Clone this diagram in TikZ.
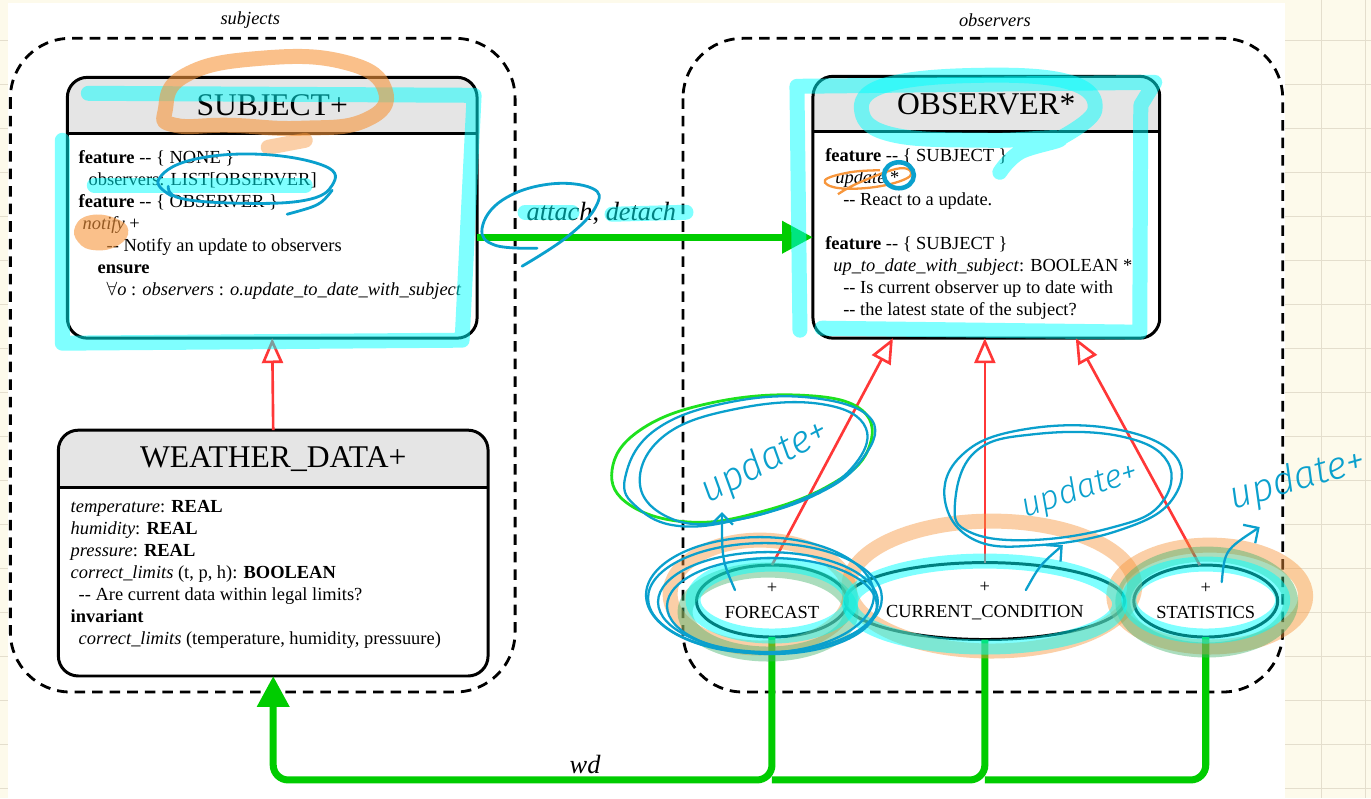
\documentclass[tikz,border=0pt]{standalone}
\usepackage{fontspec}
\setmainfont{Liberation Serif}
\newfontfamily\handfont{Fira Sans Light}
\usetikzlibrary{shapes.geometric, arrows.meta, positioning}

\definecolor{paper}{RGB}{253,250,235}
\definecolor{gridline}{RGB}{228,222,205}
\definecolor{headgray}{RGB}{229,229,229}
\definecolor{flowgreen}{RGB}{0,204,0}
\definecolor{inheritred}{RGB}{255,55,55}
\definecolor{penblue}{RGB}{10,160,205}
\definecolor{pengreen}{RGB}{30,225,30}
\definecolor{hlcyan}{RGB}{0,255,255}
\definecolor{hlorange}{RGB}{247,150,60}
\definecolor{hlgreen}{RGB}{70,180,110}

\begin{document}
\begin{tikzpicture}[x=0.02cm, y=-0.02cm,
    cluster/.style={draw, line width=1.6pt, dash pattern=on 6pt off 4pt, rounded corners=1.2cm},
    clusterlabel/.style={font=\fontsize{10.5}{12}\selectfont\itshape},
    classbox/.style={inner sep=0pt, outer sep=0pt},
    boxline/.style={line width=1.7pt, rounded corners=0.4cm},
    classtitle/.style={font=\fontsize{18}{20}\selectfont},
    classbody/.style={anchor=north west, align=left, inner sep=0pt, font=\fontsize{10.5}{12.5}\selectfont},
    effective/.style={ellipse, draw, line width=1.7pt, inner sep=0pt, outer sep=0pt, align=center, font=\fontsize{10.5}{14}\selectfont},
    inherit/.style={inheritred, line width=1.5pt, -{Triangle[length=0.5cm, width=0.42cm, fill=white]}},
    client/.style={flowgreen, line width=4pt, -{Triangle[length=0.62cm, width=0.62cm]}},
    clientline/.style={flowgreen, line width=4pt},
    hilite/.style={line width=0.3cm, line cap=round, line join=round, opacity=0.5},
    pen/.style={penblue, line width=1.3pt, line cap=round},
    hand/.style={penblue, font=\handfont\itshape\fontsize{22}{24}\selectfont}]

    % Paper
    \fill[paper] (0,0) rectangle (1371,798);
    \foreach \gx in {1322,1366} \draw[gridline] (\gx,0) -- (\gx,798);
    \foreach \gy in {40,84,...,788} \draw[gridline] (0,\gy) -- (1371,\gy);
    \fill[white] (8,3) rectangle (1285,798);
    \useasboundingbox (0,0) rectangle (1371,798);

    % Clusters
    \draw[cluster] (10,38) rectangle (515,692);
    \node[clusterlabel] (subjectslabel) at (250,20) {subjects};
    \draw[cluster] (683,38) rectangle (1283,692);
    \node[clusterlabel] (observerslabel) at (995,20) {observers};

    % SUBJECT
    \node[classbox, minimum width=8.2cm, minimum height=5.22cm] (subject) at (272,207.5) {};
    \begin{scope}
        \clip[rounded corners=0.4cm] (subject.south west) rectangle (subject.north east);
        \fill[headgray] (subject.north west) rectangle ([yshift=-1.12cm]subject.north east);
    \end{scope}
    \draw[line width=1.7pt] ([yshift=-1.12cm]subject.north west) -- ([yshift=-1.12cm]subject.north east);
    \draw[boxline] (subject.south west) rectangle (subject.north east);
    \node[classtitle] (subjecttitle) at ([yshift=-0.56cm]subject.north) {SUBJECT+};
    \node[classbody] (subjectbody) at ([xshift=0.22cm, yshift=-1.46cm]subject.north west) {%
        \textbf{feature} -{}- \{ NONE \}\\
        \hspace*{0.2cm}observers: LIST[OBSERVER]\\
        \textbf{feature} -{}- \{ OBSERVER \}\\
        \hspace*{0.08cm}\textit{notify} +\\
        \hspace*{0.56cm}-{}- Notify an update to observers\\
        \hspace*{0.38cm}\textbf{ensure}\\
        \hspace*{0.56cm}$\forall$\textit{o} : \textit{observers} : \textit{o.update\_to\_date\_with\_subject}};

    % OBSERVER
    \node[classbox, minimum width=6.94cm, minimum height=5.24cm] (observer) at (986.5,207) {};
    \begin{scope}
        \clip[rounded corners=0.4cm] (observer.south west) rectangle (observer.north east);
        \fill[headgray] (observer.north west) rectangle ([yshift=-1.1cm]observer.north east);
    \end{scope}
    \draw[line width=1.7pt] ([yshift=-1.1cm]observer.north west) -- ([yshift=-1.1cm]observer.north east);
    \draw[boxline] (observer.south west) rectangle (observer.north east);
    \node[classtitle] (observertitle) at ([yshift=-0.55cm]observer.north) {OBSERVER*};
    \node[classbody] (observerbody) at ([xshift=0.24cm, yshift=-1.44cm]observer.north west) {%
        \textbf{feature} -{}- \{ SUBJECT \}\\
        \hspace*{0.2cm}\textit{update} *\\
        \hspace*{0.36cm}-{}- React to a update.\\[12.5pt]
        \textbf{feature} -{}- \{ SUBJECT \}\\
        \hspace*{0.16cm}\textit{up\_to\_date\_with\_subject}: BOOLEAN *\\
        \hspace*{0.36cm}-{}- Is current observer up to date with\\
        \hspace*{0.36cm}-{}- the latest state of the subject?};

    % WEATHER_DATA
    \node[classbox, minimum width=8.6cm, minimum height=4.92cm] (weather) at (273,553) {};
    \begin{scope}
        \clip[rounded corners=0.4cm] (weather.south west) rectangle (weather.north east);
        \fill[headgray] (weather.north west) rectangle ([yshift=-1.14cm]weather.north east);
    \end{scope}
    \draw[line width=1.7pt] ([yshift=-1.14cm]weather.north west) -- ([yshift=-1.14cm]weather.north east);
    \draw[boxline] (weather.south west) rectangle (weather.north east);
    \node[classtitle] (weathertitle) at ([yshift=-0.57cm]weather.north) {WEATHER\_DATA+};
    \node[classbody] (weatherbody) at ([xshift=0.24cm, yshift=-1.4cm]weather.north west) {%
        \textit{temperature}: \textbf{REAL}\\
        \textit{humidity}: \textbf{REAL}\\
        \textit{pressure}: \textbf{REAL}\\
        \textit{correct\_limits} (t, p, h): \textbf{BOOLEAN}\\
        \hspace*{0.16cm}-{}- Are current data within legal limits?\\
        \textbf{invariant}\\
        \hspace*{0.16cm}\textit{correct\_limits} (temperature, humidity, pressuure)};

    % Effective observers
    \node[effective, minimum width=3.02cm, minimum height=1.44cm] (forecast) at (772,601) {+\\FORECAST};
    \node[effective, minimum width=5.26cm, minimum height=1.54cm] (current) at (985,601) {+\\CURRENT\_CONDITION};
    \node[effective, minimum width=2.88cm, minimum height=1.44cm] (statistics) at (1206,601) {+\\STATISTICS};

    % Inheritance
    \draw[inherit] (weather.north) -- (subject.south);
    \draw[inherit] (forecast.north) -- ([xshift=-1.87cm]observer.south);
    \draw[inherit] (current.north) -- (current.north |- observer.south);
    \draw[inherit] ([xshift=-0.12cm]statistics.north) -- ([xshift=1.79cm]observer.south);

    % Client links
    \coordinate (attachlevel) at (0,237);
    \draw[client] (subject.east |- attachlevel) -- node[pos=0.37, above=2pt, text=black, font=\fontsize{15}{17}\selectfont] (attachlabel) {\textit{attach}, \textit{detach}} (observer.west |- attachlevel);
    \coordinate (wdlevel) at (0,780);
    \draw[client, rounded corners=0.3cm] (forecast.south) |- (weather.south |- wdlevel) -- (weather.south);
    \draw[clientline, rounded corners=0.3cm] (current.south) |- (forecast.south |- wdlevel);
    \draw[clientline, rounded corners=0.3cm] (statistics.south) |- (current.south |- wdlevel);
    \node[font=\fontsize{15}{17}\selectfont\itshape] (wdlabel) at (585,765) {wd};

    % Highlighter marks
    \draw[hilite, hlcyan] (88,93) -- (474,95) -- (462,340) -- (62,343) -- (62,140);
    \draw[hilite, hlcyan] (94,185) -- (305,185);
    \draw[hilite, hlorange, opacity=0.6] plot[smooth cycle, tension=0.8] coordinates {(165,110) (185,75) (260,58) (345,62) (385,90) (365,120) (300,128) (230,125) (175,125)};
    \draw[hilite, hlorange, opacity=0.45] (268,147) -- (305,140);
    \fill[hlorange, opacity=0.6] plot[smooth cycle, tension=0.8] coordinates {(75,226) (90,215) (115,218) (128,230) (118,245) (95,250) (78,242)};
    \draw[pen, line width=1.6pt] plot[smooth, tension=0.7] coordinates {(172,196) (158,180) (190,160) (260,154) (325,166) (332,185) (305,200) (240,203) (180,198) (168,186)};
    \draw[pen, line width=1.6pt] (332,190) .. controls (320,205) .. (287,214);
    \draw[hilite, hlcyan] (525,212) -- (572,212);
    \draw[hilite, hlcyan] (612,214) -- (686,212);
    \draw[pen, line width=1.6pt] plot[smooth, tension=0.7] coordinates {(537,248) (495,245) (482,228) (502,200) (548,184) (592,188) (596,206) (568,236) (522,266)};
    \draw[hilite, hlcyan] (800,330) -- (797,86) -- (1155,82) -- (1141,105) -- (1140,332) -- (822,328);
    \draw[hilite, hlcyan] plot[smooth, tension=0.7] coordinates {(1060,138) (1095,110) (1070,82) (980,75) (885,85) (862,112) (895,135) (990,140) (1060,138) (1020,152) (1000,172)};
    \draw[hlorange, line width=1.3pt] plot[smooth, tension=0.7] coordinates {(880,170) (850,172) (825,180) (840,188) (880,186) (910,176) (900,168) (860,182) (838,194)};
    \draw[penblue, line width=2.6pt] (899,175) ellipse [x radius=0.3cm, y radius=0.26cm];

    % Marks on the effective observers
    \draw[hilite, hlorange, opacity=0.45] (760,594) ellipse [x radius=1.8cm, y radius=1.08cm];
    \draw[hilite, hlorange, opacity=0.45] (992,586) ellipse [x radius=2.86cm, y radius=1.3cm];
    \draw[hilite, hlorange, opacity=0.45] (1210,596) ellipse [x radius=1.92cm, y radius=1.02cm];
    \draw[hilite, hlgreen, opacity=0.45] (768,612) ellipse [x radius=1.66cm, y radius=0.84cm];
    \draw[hilite, hlgreen, opacity=0.45] (1207,602) ellipse [x radius=1.68cm, y radius=0.96cm];
    \draw[hilite, hlcyan] (772,600) ellipse [x radius=1.58cm, y radius=0.72cm];
    \draw[hilite, hlcyan] (985,604) ellipse [x radius=2.7cm, y radius=0.86cm];
    \draw[hilite, hlcyan] (1206,600) ellipse [x radius=1.54cm, y radius=0.72cm];
    \draw[pen] (765,598) ellipse [x radius=2.34cm, y radius=1.1cm];
    \draw[pen] (768,602) ellipse [x radius=2.2cm, y radius=1.0cm];
    \draw[pen] (760,595) ellipse [x radius=2.28cm, y radius=1.16cm];
    \draw[pen] (772,606) ellipse [x radius=2.1cm, y radius=0.96cm];

    % Notes
    \draw[pengreen, line width=1.6pt] plot[smooth cycle, tension=0.7] coordinates {(612,470) (640,430) (710,403) (800,395) (862,410) (868,450) (830,485) (760,512) (690,522) (630,505)};
    \draw[pen] plot[smooth cycle, tension=0.7] coordinates {(625,478) (655,430) (730,402) (815,398) (872,420) (860,462) (815,495) (745,518) (680,526) (638,508)};
    \draw[pen] plot[smooth cycle, tension=0.7] coordinates {(640,485) (665,435) (740,408) (822,404) (866,428) (850,470) (800,500) (735,520) (675,520)};
    \node[hand, rotate=28] (updatenote1) at (765,462) {update+};
    \draw[pen, -{Straight Barb[length=0.22cm]}] (735,590) .. controls (722,560) .. (722,512);

    \draw[pen] plot[smooth cycle, tension=0.7] coordinates {(945,500) (962,455) (1020,430) (1110,428) (1175,455) (1172,500) (1120,530) (1040,545) (975,540)};
    \draw[pen] plot[smooth cycle, tension=0.7] coordinates {(955,505) (975,452) (1035,434) (1120,436) (1168,462) (1160,505) (1110,528) (1030,540) (970,532)};
    \node[hand, rotate=18, font=\handfont\itshape\fontsize{19}{21}\selectfont] (updatenote2) at (1080,490) {update+};
    \draw[pen, -{Straight Barb[length=0.22cm]}] (1026,590) .. controls (1040,565) .. (1063,545);

    \node[hand, rotate=16] (updatenote3) at (1298,480) {update+};
    \draw[pen, -{Straight Barb[length=0.22cm]}] (1222,582) .. controls (1225,550) .. (1260,527);
\end{tikzpicture}
\end{document}
